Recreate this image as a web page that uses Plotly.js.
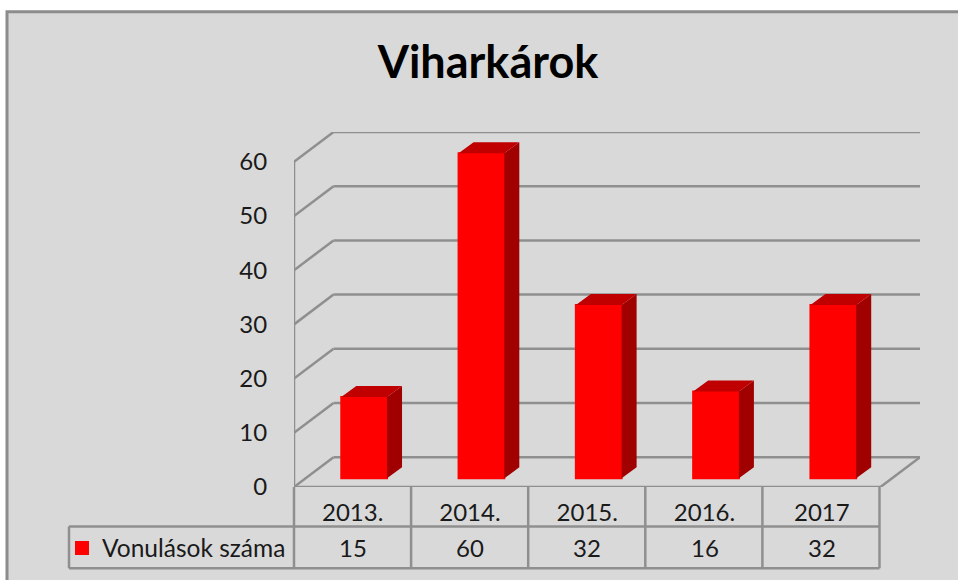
<!DOCTYPE html>
<html><head><meta charset="utf-8">
<script src="https://cdn.plot.ly/plotly-3.0.1.min.js"></script>
<style>html,body{margin:0;padding:0;background:#fff}#c{width:958px;height:580px}</style>
</head><body><div id="c"></div>
<script>
const categories = ['2013.', '2014.', '2015.', '2016.', '2017'];
const values = [15, 60, 32, 16, 32];
const seriesName = 'Vonulások száma';
const yTicks = [0, 10, 20, 30, 40, 50, 60];

const L = 294, R = 920, T = 131.5, B = 487.5;
const W = 958, H = 580;
const xmax = 4.837, ymax = 65.5;
const wallDx = 0.337, wallDy = 5.5;      // depth of the floor
const barOffX = 0.098, barOffY = 1.6;    // bar placement within the floor depth
const barDx = 0.128, barDy = 2.03;       // bar depth
const barW = 0.39;
const gridColor = '#8f8f8f';
const font = 'Lato, "Open Sans", sans-serif';
const textColor = '#1a1a1a';

const xp = px => (px - L) / (R - L);
const yp = py => (B - py) / (B - T);

const line = (x0, y0, x1, y1) => ({
  type: 'line', layer: 'below', xref: 'x', yref: 'y', x0, y0, x1, y1,
  line: { color: gridColor, width: 2.5 }
});

const shapes = [{
  type: 'rect', layer: 'below', xref: 'paper', yref: 'paper',
  x0: xp(7), x1: xp(990), y0: yp(11), y1: yp(620),
  fillcolor: '#d9d9d9', line: { color: '#8c8c8c', width: 3 }
}];

// back wall grid and side-wall diagonals
yTicks.forEach(v => {
  shapes.push(line(-0.5 + wallDx, v + wallDy, 4.5 + wallDx, v + wallDy));
  shapes.push(line(-0.5, v, -0.5 + wallDx, v + wallDy));
});
shapes.push(line(-0.5, 0, -0.5, 60));
shapes.push(line(-0.5, 0, 4.5, 0));
shapes.push(line(4.5, 0, 4.5 + wallDx, wallDy));

// data table
const cellLine = (x0, y0, x1, y1) => ({
  type: 'line', layer: 'below', xref: 'paper', yref: 'paper',
  x0: xp(x0), y0: yp(y0), x1: xp(x1), y1: yp(y1),
  line: { color: gridColor, width: 2.5 }
});
const row1 = 527, row2 = 569, tableLeft = 69;
const xFront = i => L + i * (879.5 - L) / 5;
shapes.push(cellLine(tableLeft, row1, 879.5, row1));
shapes.push(cellLine(tableLeft, row2, 879.5, row2));
shapes.push(cellLine(tableLeft, row1, tableLeft, row2));
categories.concat(['']).forEach((_, i) => {
  shapes.push(cellLine(xFront(i), B, xFront(i), row2));
});

const annotations = values.map((v, i) => ({
  xref: 'x', yref: 'paper', x: i, y: yp(548), yanchor: 'middle', xanchor: 'center',
  text: String(v), showarrow: false, font: { family: font, size: 24, color: textColor }
}));

const sideX = [], sideY = [], topX = [], topY = [];
values.forEach((v, i) => {
  const x1 = i + barOffX + barW / 2, x0 = i + barOffX - barW / 2;
  const yb = barOffY, yt = v + barOffY;
  sideX.push(x1, x1 + barDx, x1 + barDx, x1, x1, null);
  sideY.push(yb, yb + barDy, yt + barDy, yt, yb, null);
  topX.push(x0, x0 + barDx, x1 + barDx, x1, x0, null);
  topY.push(yt, yt + barDy, yt + barDy, yt, yt, null);
});

const traces = [
  { type: 'bar', name: seriesName, x: categories.map((_, i) => i + barOffX), y: values,
    base: barOffY, width: barW, marker: { color: '#ff0000', line: { color: '#ff0000', width: 2 } }, hoverinfo: 'skip' },
  { type: 'scatter', mode: 'lines', x: sideX, y: sideY, fill: 'toself', fillcolor: '#a00000',
    line: { width: 0 }, showlegend: false, hoverinfo: 'skip' },
  { type: 'scatter', mode: 'lines', x: topX, y: topY, fill: 'toself', fillcolor: '#c00000',
    line: { width: 0 }, showlegend: false, hoverinfo: 'skip' }
];

const layout = {
  width: W, height: H,
  margin: { l: L, r: W - R, t: T, b: H - B, pad: 0 },
  paper_bgcolor: '#ffffff', plot_bgcolor: 'rgba(0,0,0,0)',
  title: { text: 'Viharkárok', xref: 'container', yref: 'container', x: 488 / W, xanchor: 'center',
    y: 1 - 62 / H, yanchor: 'middle', font: { family: font, size: 45, weight: 700, color: '#000' } },
  showlegend: true,
  legend: { orientation: 'h', xref: 'container', yref: 'container', x: 62 / W, y: 1 - 548 / H, xanchor: 'left', yanchor: 'middle',
    bgcolor: 'rgba(0,0,0,0)', borderwidth: 0, font: { family: font, size: 24.5, color: textColor } },
  xaxis: { range: [-0.5, xmax], tickmode: 'array', tickvals: categories.map((_, i) => i), ticktext: categories,
    showgrid: false, zeroline: false, showline: false, ticks: 'outside', ticklen: 4, tickcolor: 'rgba(0,0,0,0)',
    tickfont: { family: font, size: 24, color: textColor } },
  yaxis: { range: [0, ymax], tickmode: 'array', tickvals: yTicks,
    showgrid: false, zeroline: false, showline: false, ticks: 'outside', ticklen: 21, tickcolor: 'rgba(0,0,0,0)',
    tickfont: { family: font, size: 24, color: textColor } },
  shapes, annotations
};
Plotly.newPlot('c', traces, layout, { displayModeBar: false, staticPlot: true });
</script></body></html>
